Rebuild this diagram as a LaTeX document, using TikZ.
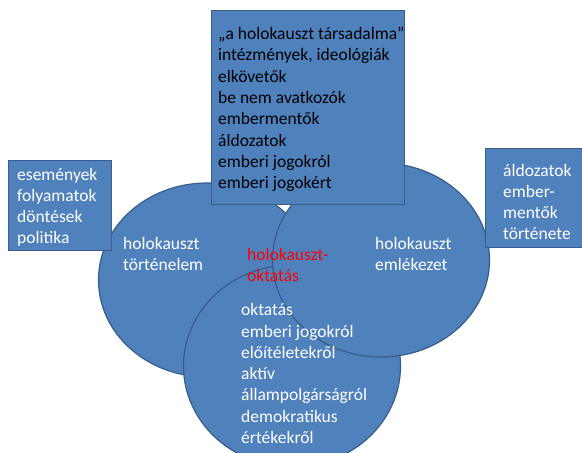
\documentclass[tikz,border=0pt]{standalone}
\usepackage{fontspec}
\setmainfont{Carlito}
\usetikzlibrary{shapes.geometric}
\definecolor{fillblue}{HTML}{4F81BD}
\definecolor{lineblue}{HTML}{385D8A}
\definecolor{redtext}{HTML}{FF0000}
\tikzset{
  blob/.style={ellipse, draw=lineblue, fill=fillblue, line width=1.2pt, inner sep=0pt,
    minimum width=217pt, minimum height=194pt},
  boxshape/.style={rectangle, draw=lineblue, fill=fillblue, line width=1.2pt, inner sep=0pt, anchor=north west},
  txt/.style={inner sep=0pt, anchor=base west, align=left, font=\fontsize{17.5}{21.3}\selectfont},
  wtxt/.style={txt, text=white},
  btxt/.style={txt, text=black},
  rtxt/.style={txt, text=redtext}
}
\begin{document}
\begin{tikzpicture}[x=1pt,y=-1pt]
\clip (0,0) rectangle (582,453);
\fill[white] (0,0) rectangle (582,453);
% circles
\node[blob] (hist) at (207,280) {};
\node[blob, minimum height=202pt] (edu) at (292,366) {};
\node[blob] (mem) at (381,260) {};
% texts in circles (anchor = baseline of last line)
\node[wtxt] (histtxt) at (123,270.3) {holokauszt\\történelem};
\node[wtxt] (memtxt) at (375,270.3) {holokauszt\\emlékezet};
\node[rtxt] (center) at (247,281.8) {holokauszt-\\oktatás};
\node[wtxt] (edutxt) at (241,443.5) {oktatás\\emberi jogokról\\előítéletekről\\aktív\\állampolgárságról\\demokratikus\\értékekről};
% boxes
\node[boxshape, minimum width=193pt, minimum height=194pt] (topbox) at (211,10) {};
\node[btxt] (toptxt) at (218,188.6) {„a holokauszt társadalma”\\intézmények, ideológiák\\elkövetők\\be nem avatkozók\\embermentők\\áldozatok\\emberi jogokról\\emberi jogokért};
\node[boxshape, minimum width=103pt, minimum height=90pt] (leftbox) at (8,160) {};
\node[wtxt] (lefttxt) at (17,243.9) {események\\folyamatok\\döntések\\politika};
\node[boxshape, minimum width=130pt, minimum height=99pt] (rightbox) at (485,148) {};
\node[wtxt] (righttxt) at (503,239.9) {áldozatok\\ember-\\mentők\\története};
\end{tikzpicture}
\end{document}
